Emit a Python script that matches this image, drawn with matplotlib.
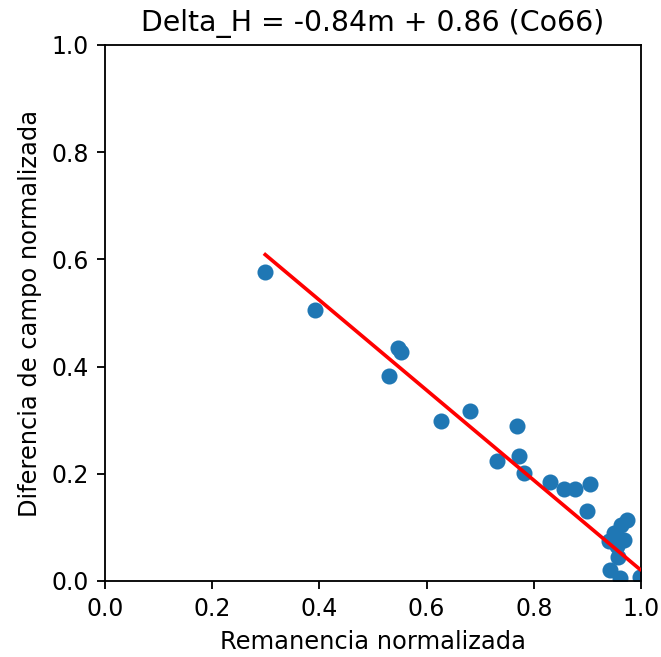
import matplotlib
matplotlib.use("Agg")
import matplotlib.pyplot as plt
import numpy as np

remanence = [0.299, 0.392, 0.547, 0.552, 0.530, 0.627, 0.681, 0.731, 0.769, 0.772,
             0.782, 0.830, 0.856, 0.877, 0.905, 0.899, 0.940, 0.963, 0.974, 0.968,
             0.957, 0.942, 0.961, 0.998, 0.955, 0.950]
delta_h = [0.577, 0.506, 0.435, 0.427, 0.383, 0.299, 0.317, 0.224, 0.289, 0.233,
           0.201, 0.185, 0.172, 0.172, 0.181, 0.131, 0.075, 0.104, 0.114, 0.076,
           0.045, 0.021, 0.006, 0.007, 0.065, 0.090]
slope = -0.84
intercept = 0.86
title = "Delta_H = -0.84m + 0.86 (Co66)"

DPI = 165
fig = plt.figure(figsize=(662 / DPI, 657 / DPI), dpi=DPI)
ax = fig.add_axes([105/662, 76/657, 536/662, 536/657])
ax.scatter(remanence, delta_h, color="#1f77b4", zorder=2)
xs = np.array([min(remanence), max(remanence)])
ax.plot(xs, slope * xs + intercept, color="red", lw=1.6, zorder=3)
ax.set_xlim(0, 1)
ax.set_ylim(0, 1)
ax.set_xlabel("Remanencia normalizada", fontsize=10.5)
ax.set_ylabel("Diferencia de campo normalizada", fontsize=10.5)
ax.set_title(title, fontsize=12.4)
ax.tick_params(labelsize=10.3)
fig.savefig("out.png", dpi=DPI)
